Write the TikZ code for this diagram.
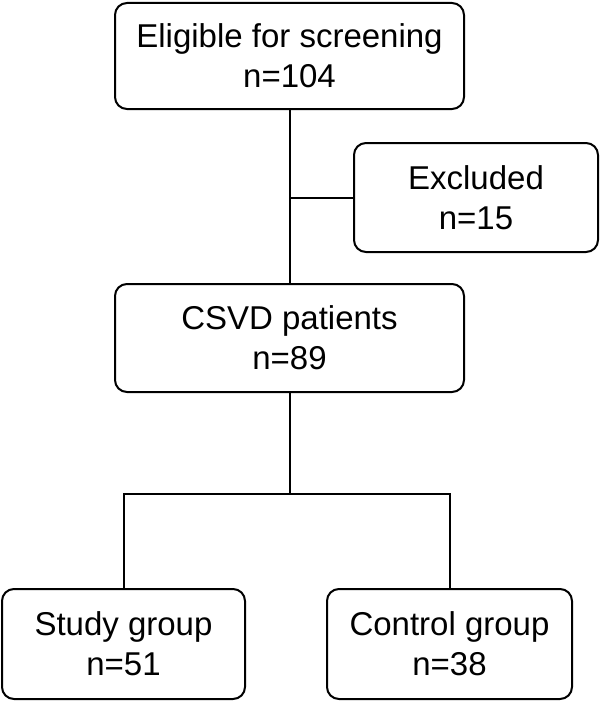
\documentclass[tikz,border=0pt]{standalone}
\usepackage{fontspec}
\setmainfont{Liberation Sans}
\begin{document}
\begin{tikzpicture}[x=1pt,y=-1pt,
  box/.style={draw, line width=2pt, rounded corners=12pt, align=center,
    inner sep=0pt, font=\fontsize{33}{40}\selectfont},
  link/.style={line width=2pt}]
\useasboundingbox (0,0) rectangle (600,701);
\node[box, minimum width=349pt, minimum height=106pt] (top) at (289.5,56) {Eligible for screening\\n=104};
\node[box, minimum width=244pt, minimum height=109pt] (excl) at (476,197.5) {Excluded\\n=15};
\node[box, minimum width=349pt, minimum height=108pt] (csvd) at (289.5,338) {CSVD patients\\n=89};
\node[box, minimum width=243pt, minimum height=110pt] (study) at (123.5,644) {Study group\\n=51};
\node[box, minimum width=245pt, minimum height=110pt] (control) at (449.5,644) {Control group\\n=38};
\coordinate (split) at (289.5,494);
\draw[link] (top.south) -- (csvd.north);
\draw[link] (excl.west) -- (excl.west -| top.south);
\draw[link] (csvd.south) -- (split);
\draw[link] (study.north) |- (split) -| (control.north);
\end{tikzpicture}
\end{document}
